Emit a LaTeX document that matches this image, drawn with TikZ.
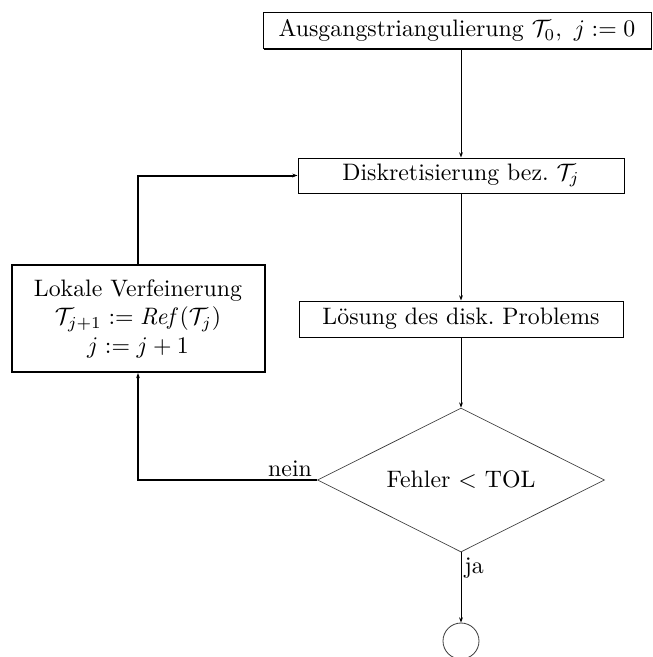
\documentclass[tikz,border=0pt]{standalone}
\usetikzlibrary{shapes.geometric,arrows.meta,shadows}
\begin{document}
\begin{tikzpicture}[x=0.42pt,y=-0.42pt,
  box/.style={draw, fill=white, line width=0.42pt, inner sep=0pt,
    general shadow={fill=black, shadow xshift=0.45pt, shadow yshift=-0.45pt}},
  thickbox/.style={draw, fill=white, line width=0.84pt, inner sep=0pt, align=center},
  conn/.style={line width=0.42pt, -{Stealth[length=2.2pt,width=1.6pt]}},
  thickconn/.style={line width=0.84pt, -{Stealth[length=2.2pt,width=1.6pt]}},
  lbl/.style={inner sep=1pt}
]
\useasboundingbox (0,0) rectangle (653,657);
\node[box, minimum width=388*0.42pt, minimum height=36*0.42pt] (top) at (457,30.5)
  {Ausgangstriangulierung $\mathcal{T}_0,\ j:=0$};
\node[box, minimum width=326*0.42pt, minimum height=35*0.42pt] (disk) at (461,175.5)
  {Diskretisierung bez.\ $\mathcal{T}_j$};
\node[box, minimum width=324*0.42pt, minimum height=36*0.42pt] (loes) at (461,319)
  {L\"osung des disk.\ Problems};
\node[thickbox, minimum width=253*0.42pt, minimum height=107*0.42pt] (ref) at (138,318.5)
  {Lokale Verfeinerung\\ $\mathcal{T}_{j+1}:=\mathit{Ref}(\mathcal{T}_j)$\\ $j:=j+1$};
\node[diamond, draw=black!75, line width=0.3pt, inner sep=0pt, aspect=2,
  minimum width=287*0.42pt, minimum height=144*0.42pt] (dia) at (461,480)
  {Fehler $<$ TOL};
\node[circle, draw=black!75, line width=0.35pt, minimum size=36*0.42pt, inner sep=0pt] (end) at (461,641) {};
\draw[conn] (top.south -| disk.north) -- (disk.north);
\draw[conn] (disk.south) -- (loes.north);
\draw[conn] (loes.south) -- (dia.north);
\draw[conn] (dia.south) -- (end.north);
\draw[thickconn] (dia.west) -| (ref.south);
\draw[thickconn] (ref.north) |- (disk.west);
\node[lbl, anchor=south east] (nein) at ([xshift=-1pt]dia.west) {nein};
\node[lbl, anchor=north west] (ja) at ([xshift=0.3pt,yshift=-1pt]dia.south) {ja};
\end{tikzpicture}
\end{document}
